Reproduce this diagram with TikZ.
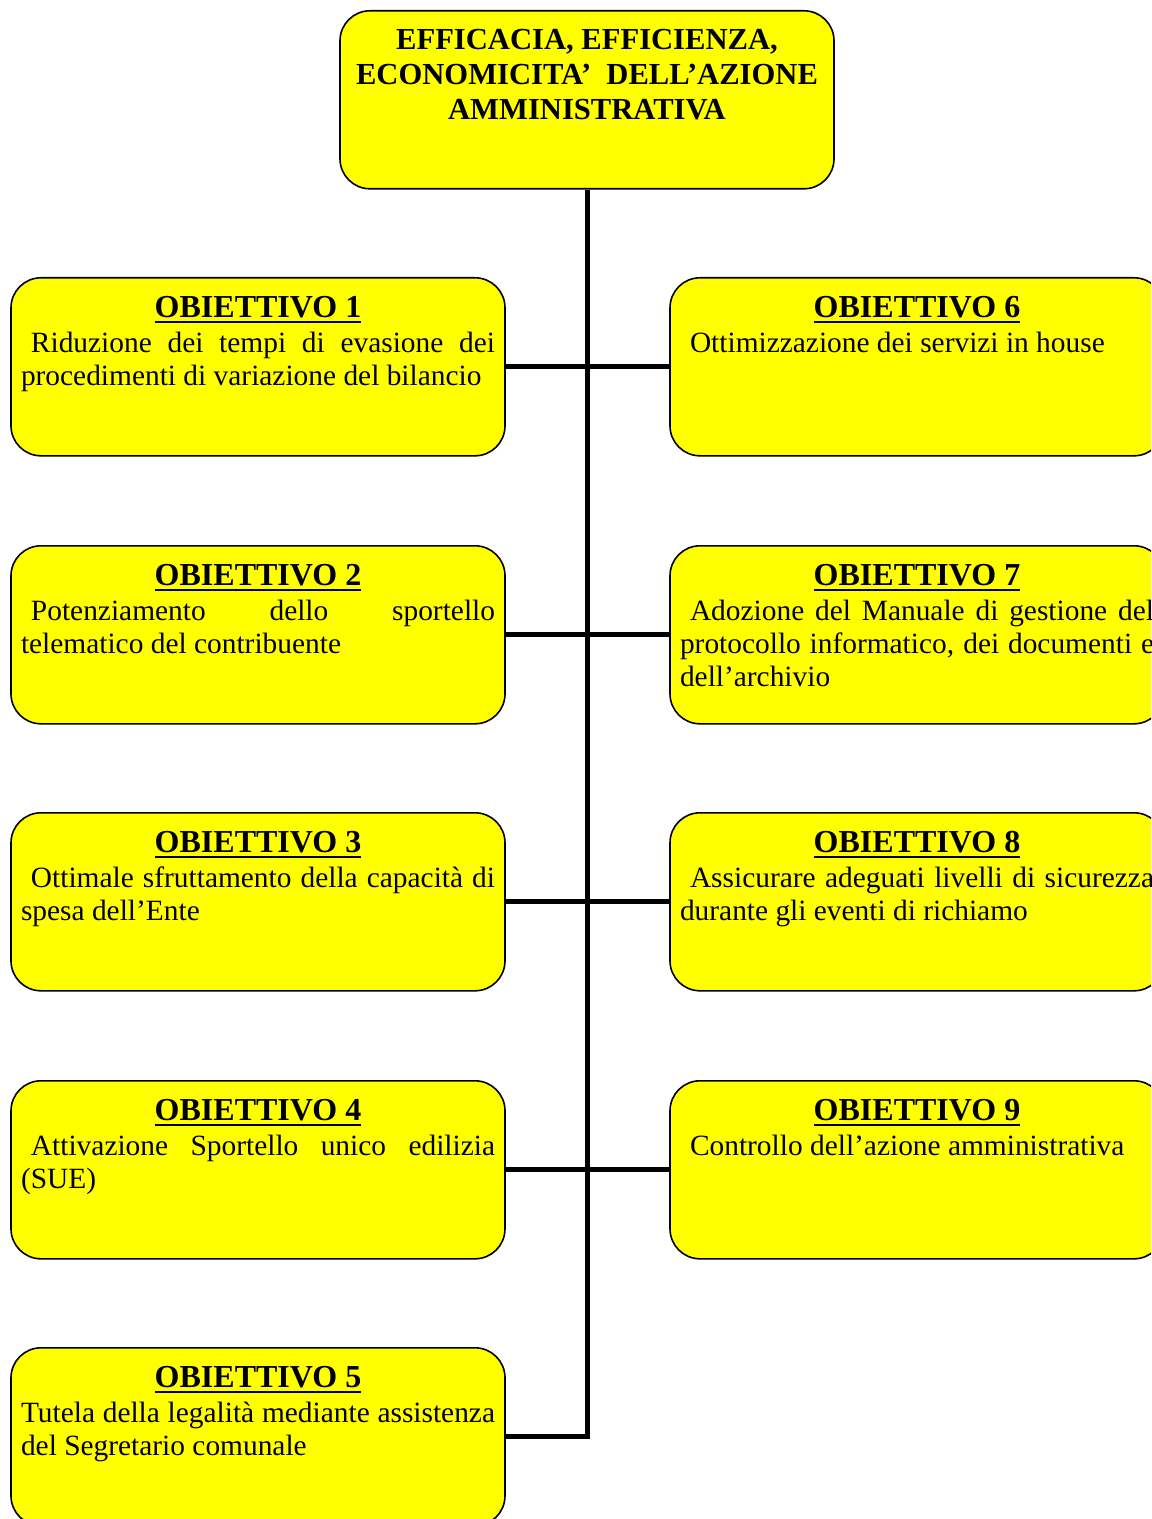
\documentclass[tikz,border=0pt]{standalone}
\usepackage{fontspec}
\setmainfont{Liberation Serif}
\hbadness=10000

\definecolor{giallo}{RGB}{255,255,0}

\newsavebox{\scatola}
\newcommand{\sottolinea}[1]{\savebox{\scatola}{#1}\rlap{\rule[-2.8pt]{\wd\scatola}{1.3pt}}\usebox{\scatola}}
\newcommand{\titolo}{\fontsize{15.3}{17.5}\selectfont\bfseries}
\newcommand{\intesta}{\fontsize{16}{18}\selectfont\bfseries}
\newcommand{\corpo}{\fontsize{14.7}{16.6}\selectfont}
\newcommand{\rientro}{\hspace*{5pt}}
% riquadro: intestazione sottolineata e testo giustificato
\newcommand{\riquadro}[2]{\parbox[t][89pt][t]{237pt}{\corpo\rule{0pt}{20pt}\makebox[\linewidth]{\intesta\sottolinea{#1}}\par\vspace{0.6pt}#2}}

\tikzset{
  riq/.style={draw=black, line width=0.8pt, fill=giallo, rounded corners=15pt,
    inner xsep=5pt, inner ysep=0pt, anchor=north},
  ramo/.style={line width=2.5pt},
}

\begin{document}
\begin{tikzpicture}[x=0.5pt, y=-0.5pt]
    \useasboundingbox (0,0) rectangle (1151,1519);
    \clip (0,0) rectangle (1151,1519);

    % Riquadro principale
    \node[riq](titolo) at (587,10) {\parbox[t][89pt][t]{237pt}{\titolo\centering\rule{0pt}{19.5pt}EFFICACIA, EFFICIENZA,\\ ECONOMICITA’\ \ DELL’AZIONE\\ AMMINISTRATIVA}};

    % Obiettivi a sinistra (1-5)
    \node[riq](ob1) at (258,277) {\riquadro{OBIETTIVO 1}{\rientro Riduzione dei tempi di evasione dei\linebreak procedimenti di variazione del bilancio}};
    \node[riq](ob2) at (258,545) {\riquadro{OBIETTIVO 2}{\rientro Potenziamento dello sportello\linebreak telematico del contribuente}};
    \node[riq](ob3) at (258,812) {\riquadro{OBIETTIVO 3}{\rientro Ottimale sfruttamento della capacità di\linebreak spesa dell’Ente}};
    \node[riq](ob4) at (258,1080) {\riquadro{OBIETTIVO 4}{\rientro Attivazione Sportello unico edilizia\linebreak (SUE)}};
    \node[riq](ob5) at (258,1347) {\riquadro{OBIETTIVO 5}{Tutela della legalità mediante assistenza\linebreak del Segretario comunale}};

    % Obiettivi a destra (6-9)
    \node[riq](ob6) at (917,277) {\riquadro{OBIETTIVO 6}{\rientro Ottimizzazione dei servizi in house}};
    \node[riq](ob7) at (917,545) {\riquadro{OBIETTIVO 7}{\rientro Adozione del Manuale di gestione del\linebreak protocollo informatico, dei documenti e\linebreak dell’archivio}};
    \node[riq](ob8) at (917,812) {\riquadro{OBIETTIVO 8}{\rientro Assicurare adeguati livelli di sicurezza\linebreak durante gli eventi di richiamo}};
    \node[riq](ob9) at (917,1080) {\riquadro{OBIETTIVO 9}{\rientro Controllo dell’azione amministrativa}};

    % Collegamenti
    \draw[ramo] (titolo.south) |- (ob5.east);
    \foreach \s/\d in {ob1/ob6, ob2/ob7, ob3/ob8, ob4/ob9}
        \draw[ramo] (\s.east) -- (\d.west);
\end{tikzpicture}
\end{document}
